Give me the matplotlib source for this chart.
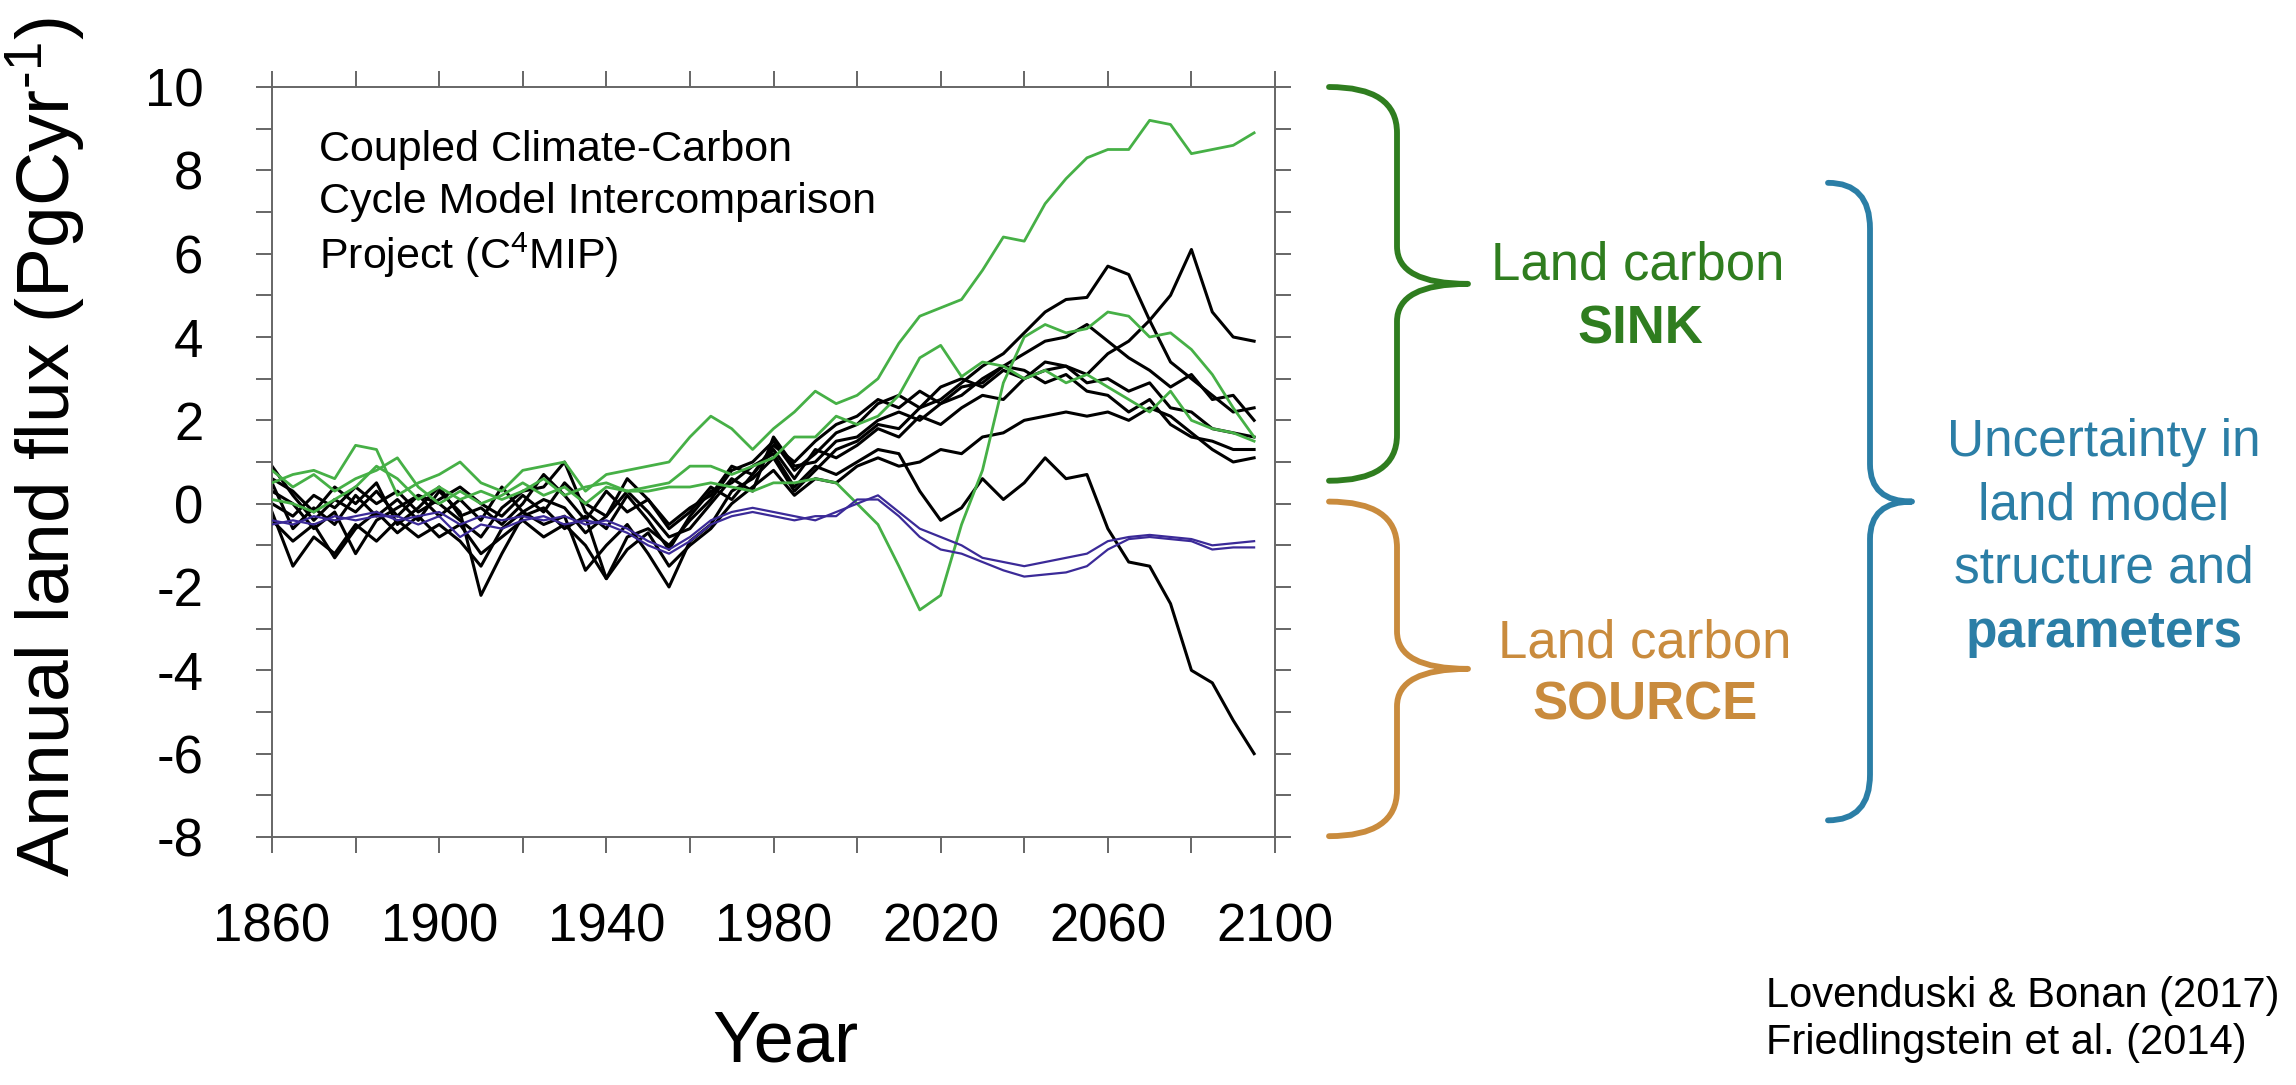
import numpy as np
import matplotlib
matplotlib.use("Agg")
import matplotlib.pyplot as plt
from matplotlib.path import Path
from matplotlib.patches import PathPatch
from matplotlib.ticker import MultipleLocator
import matplotlib.transforms as mtransforms

plt.rcParams['font.family'] = ['Liberation Sans', 'DejaVu Sans']
plt.rcParams['axes.unicode_minus'] = False

# ----------------------------------------------------------------------
# Data (annual land flux, PgC/yr), 5-year samples
# ----------------------------------------------------------------------
years = np.arange(1860, 2096, 5)

green_runs = [
    # top green run, ends near 9
    [0.5, 0.7, 0.8, 0.6, 1.4, 1.3, 0.2, 0.5, 0.7, 1.0, 0.5, 0.3,
     0.8, 0.9, 1.0, 0.3, 0.7, 0.8, 0.9, 1.0, 1.6, 2.1, 1.8, 1.3,
     1.8, 2.2, 2.7, 2.4, 2.6, 3.0, 3.85, 4.5, 4.7, 4.9, 5.6, 6.4,
     6.3, 7.2, 7.8, 8.3, 8.5, 8.5, 9.2, 9.1, 8.4, 8.5, 8.6, 8.9],
    [0.1, 0.0, -0.2, 0.1, 0.4, 0.9, 0.6, 0.1, 0.4, 0.1, 0.3, 0.1,
     0.3, 0.6, 0.2, 0.4, 0.5, 0.3, 0.4, 0.5, 0.9, 0.9, 0.7, 0.9,
     1.1, 1.6, 1.6, 2.1, 1.9, 2.1, 2.6, 3.5, 3.8, 3.05, 3.4, 3.3,
     3.0, 3.2, 2.9, 3.1, 2.8, 2.5, 2.2, 2.7, 2.0, 1.8, 1.7, 1.5],
    # run with the dip around 2015
    [0.8, 0.4, 0.7, 0.3, 0.6, 0.8, 1.1, 0.4, 0.0, 0.3, 0.0, 0.2,
     0.5, 0.2, 0.4, 0.0, 0.4, 0.3, 0.3, 0.4, 0.4, 0.5, 0.4, 0.3,
     0.5, 0.5, 0.6, 0.5, 0.0, -0.5, -1.5, -2.55, -2.2, -0.5, 0.8, 2.9,
     4.0, 4.3, 4.1, 4.2, 4.6, 4.5, 4.0, 4.1, 3.7, 3.1, 2.3, 1.6],
]

black_runs = [
    # run that collapses to -6 by 2095
    [0.9, 0.2, -0.4, 0.1, -0.2, 0.3, -0.3, 0.2, 0.0, -0.4, -0.8, -0.1,
     0.3, 0.4, 1.0, -0.2, -0.6, 0.2, -0.4, -1.1, -0.3, 0.3, 0.5, 0.9,
     1.2, 0.4, 0.9, 0.7, 1.0, 1.3, 1.2, 0.3, -0.4, -0.1, 0.6, 0.1,
     0.5, 1.1, 0.6, 0.7, -0.6, -1.4, -1.5, -2.4, -4.0, -4.3, -5.2, -6.0],
    # run peaking near 6 around 2080
    [0.5, -0.6, -0.1, -0.5, 0.2, -0.3, 0.1, -0.4, 0.3, -0.2, -2.2, -1.2,
     -0.3, -0.1, -0.6, -0.3, -1.8, -0.8, -0.6, -1.0, -0.4, 0.1, 0.8, 1.0,
     1.5, 0.8, 1.2, 1.7, 1.9, 2.4, 2.6, 2.3, 2.8, 3.0, 2.8, 3.2,
     3.0, 3.4, 3.3, 3.1, 3.6, 3.9, 4.4, 5.0, 6.1, 4.6, 4.0, 3.9],
    [-0.2, -1.5, -0.8, -1.2, -0.5, -0.9, -0.4, -0.8, -0.5, -0.9, -1.5, -0.6,
     -0.2, -0.5, -0.3, -1.6, -1.0, -0.5, -1.2, -2.0, -0.9, -0.5, 0.3, 0.6,
     1.1, 0.3, 0.8, 1.3, 1.5, 1.9, 1.8, 2.3, 2.5, 2.9, 3.3, 3.6,
     4.1, 4.6, 4.9, 4.95, 5.7, 5.5, 4.4, 3.4, 3.0, 2.6, 2.2, 2.3],
    [0.3, 0.0, -0.6, -0.2, -1.2, -0.4, -0.1, 0.2, -0.3, 0.1, -0.4, 0.4,
     -0.2, 0.1, -0.1, -0.7, -0.3, 0.3, -0.2, -0.8, -0.6, 0.0, 0.6, 0.3,
     1.6, 0.9, 1.0, 1.5, 1.6, 2.0, 2.2, 2.0, 2.4, 2.6, 3.0, 3.3,
     3.6, 3.9, 4.0, 4.3, 3.9, 3.5, 3.2, 2.8, 3.1, 2.5, 2.6, 2.0],
    [0.6, 0.3, -0.2, 0.4, 0.0, 0.5, -0.5, -0.1, 0.4, -0.3, -0.1, -0.5,
     0.0, 0.7, 0.2, -0.4, 0.3, -0.2, 0.1, -0.6, -0.2, 0.4, 0.1, 0.7,
     1.3, 0.6, 1.3, 1.1, 1.4, 1.8, 1.6, 2.1, 1.9, 2.3, 2.6, 2.5,
     3.0, 3.2, 3.3, 2.9, 3.0, 2.7, 2.9, 2.3, 2.2, 1.8, 1.7, 1.6],
    [-0.4, -0.9, -0.5, -1.3, -0.6, -0.2, -0.7, -0.3, -0.8, -0.5, -1.2, -0.8,
     -0.4, -0.8, -0.5, -1.0, -1.8, -1.1, -0.7, -1.5, -1.0, -0.6, 0.0, 0.4,
     0.8, 0.2, 0.6, 0.5, 0.9, 1.1, 0.9, 1.0, 1.3, 1.2, 1.6, 1.7,
     2.0, 2.1, 2.2, 2.1, 2.2, 2.0, 2.3, 2.1, 1.7, 1.3, 1.0, 1.1],
    [0.0, -0.3, 0.2, -0.1, 0.4, 0.0, 0.3, -0.2, 0.1, 0.4, 0.0, -0.3,
     0.2, -0.2, 0.5, 0.0, -0.3, 0.6, 0.1, -0.5, -0.1, 0.2, 0.9, 0.7,
     1.4, 1.0, 1.5, 1.9, 2.1, 2.5, 2.3, 2.7, 2.4, 2.8, 2.9, 3.3,
     3.2, 2.9, 3.1, 2.7, 2.6, 2.2, 2.5, 1.9, 1.6, 1.5, 1.3, 1.3],
]

purple_runs = [
    [-0.4, -0.5, -0.3, -0.4, -0.3, -0.2, -0.4, -0.3, -0.2, -0.5, -0.3, -0.4,
     -0.3, -0.4, -0.3, -0.5, -0.4, -0.6, -0.9, -1.1, -0.8, -0.4, -0.2, -0.1,
     -0.2, -0.3, -0.4, -0.2, 0.0, 0.2, -0.2, -0.6, -0.8, -1.0, -1.3, -1.4,
     -1.5, -1.4, -1.3, -1.2, -0.9, -0.8, -0.75, -0.8, -0.85, -1.0, -0.95, -0.9],
    [-0.5, -0.4, -0.5, -0.3, -0.4, -0.3, -0.3, -0.5, -0.3, -0.8, -0.5, -0.6,
     -0.4, -0.3, -0.5, -0.4, -0.5, -0.7, -1.0, -1.2, -0.9, -0.5, -0.3, -0.2,
     -0.3, -0.4, -0.3, -0.3, 0.1, 0.1, -0.3, -0.8, -1.1, -1.2, -1.4, -1.6,
     -1.75, -1.7, -1.65, -1.5, -1.1, -0.85, -0.8, -0.85, -0.9, -1.1, -1.05, -1.05],
]

ytick_vals = np.arange(-8, 11, 2)
xtick_vals = np.arange(1860, 2101, 40)

W, H = 2296, 1085
GREEN_TXT = '#2f7d1f'
ORANGE_TXT = '#c98b3d'
BLUE_TXT = '#2b7ea6'


def fx(x):
    return x / W


def fy(y):
    return 1 - y / H


def draw_brace(fig, ax, x_end, x_stem, x_tip, y_top, y_bot, color,
               r_end=1.1, r_mid=0.9):
    """Curly brace opening to the left; x in pixels, y in data units."""
    trans = mtransforms.blended_transform_factory(fig.transFigure, ax.transData)
    xe, xs, xt = fx(x_end), fx(x_stem), fx(x_tip)
    ym = (y_top + y_bot) / 2
    verts = [(xe, y_top), (xs, y_top), (xs, y_top - r_end),
             (xs, ym + r_mid),
             (xs, ym), (xt, ym),
             (xs, ym), (xs, ym - r_mid),
             (xs, y_bot + r_end),
             (xs, y_bot), (xe, y_bot)]
    codes = [Path.MOVETO, Path.CURVE3, Path.CURVE3, Path.LINETO,
             Path.CURVE3, Path.CURVE3, Path.CURVE3, Path.CURVE3,
             Path.LINETO, Path.CURVE3, Path.CURVE3]
    patch = PathPatch(Path(verts, codes), facecolor='none', edgecolor=color,
                      lw=4.2, capstyle='round', joinstyle='round',
                      transform=trans, clip_on=False)
    fig.add_artist(patch)


fig = plt.figure(figsize=(W / 100, H / 100), dpi=100)
ax = fig.add_axes([272 / W, 1 - 837 / H, 1003 / W, 750 / H])

for run in black_runs:
    ax.plot(years, run, color='black', lw=2.2, zorder=2)
for run in green_runs:
    ax.plot(years, run, color='#46b046', lw=2.0, zorder=3)
for run in purple_runs:
    ax.plot(years, run, color='#3b2a98', lw=1.6, zorder=4)

ax.set_xlim(1860, 2100)
ax.set_ylim(-8, 10)
ax.set_xticks(xtick_vals)
ax.set_yticks(ytick_vals)
ax.xaxis.set_minor_locator(MultipleLocator(20))
ax.yaxis.set_minor_locator(MultipleLocator(1))
ax.tick_params(which='both', direction='out', length=11.5, width=1.4,
               color='#666666', top=True, right=True, labelsize=38)
ax.tick_params(axis='x', pad=36)
ax.tick_params(axis='y', pad=38)
for sp in ax.spines.values():
    sp.set_color('#666666')
    sp.set_linewidth(1.4)

# in-plot title block
for i, line in enumerate(['Coupled Climate-Carbon',
                          'Cycle Model Intercomparison',
                          r'Project (C$\mathregular{^4}$MIP)']):
    ax.text(0.047, 0.916 - i * 0.07, line, transform=ax.transAxes,
            fontsize=31, ha='left', va='center')

# axis titles
fig.text(fx(46), fy(447), 'Annual land flux (PgCyr$\\mathregular{^{\u20101}}$)',
         rotation=90, ha='center', va='center', fontsize=54)
fig.text(fx(785), fy(1043), 'Year', ha='center', va='center', fontsize=52)

# braces and their labels
draw_brace(fig, ax, 1329, 1397, 1468, 10.0, 0.55, GREEN_TXT)
draw_brace(fig, ax, 1329, 1397, 1468, 0.05, -7.98, ORANGE_TXT)
draw_brace(fig, ax, 1828, 1870, 1912, 7.7, -7.6, BLUE_TXT)

fig.text(fx(1638), fy(266), 'Land carbon', color=GREEN_TXT, fontsize=38,
         ha='center', va='center')
fig.text(fx(1640), fy(330), 'SINK', color=GREEN_TXT, fontsize=38,
         fontweight='bold', ha='center', va='center')
fig.text(fx(1645), fy(643), 'Land carbon', color=ORANGE_TXT, fontsize=38,
         ha='center', va='center')
fig.text(fx(1645), fy(705), 'SOURCE', color=ORANGE_TXT, fontsize=38,
         fontweight='bold', ha='center', va='center')

for y, line, wt in [(442, 'Uncertainty in', 'normal'),
                    (506, 'land model', 'normal'),
                    (569, 'structure and', 'normal'),
                    (633, 'parameters', 'bold')]:
    fig.text(fx(2104), fy(y), line, color=BLUE_TXT, fontsize=37,
             fontweight=wt, ha='center', va='center')

# references
fig.text(fx(1766), fy(996), 'Lovenduski & Bonan (2017)', fontsize=30,
         ha='left', va='center')
fig.text(fx(1766), fy(1043), 'Friedlingstein et al. (2014)', fontsize=30,
         ha='left', va='center')

fig.savefig('out.png', dpi=100)
